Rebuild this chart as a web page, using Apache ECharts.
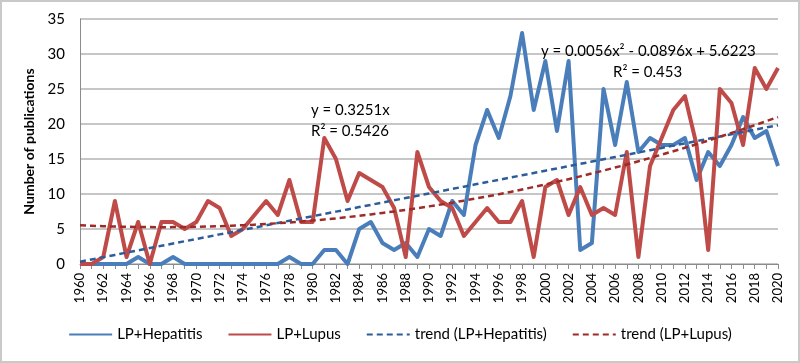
<!DOCTYPE html>
<html>
<head>
<meta charset="utf-8">
<script src="https://cdn.jsdelivr.net/npm/echarts@6/dist/echarts.min.js"></script>
<style>
html,body{margin:0;padding:0;background:#fff;}
#c{width:800px;height:363px;box-sizing:border-box;border:2px solid #c9c9c9;}
</style>
</head>
<body>
<div id="c"></div>
<script>
const years = [];
for (let y = 1960; y <= 2020; y++) years.push(String(y));

const hepatitis = [0,0,0,0,0,1,0,0,1,0, 0,0,0,0,0,0,0,0,1,0, 0,2,2,0,5,6,3,2,3,1, 5,4,9,7,17,22,18,24,33,22, 29,19,29,2,3,25,17,26,16,18, 17,17,18,12,16,14,17,21,18,19, 14];
const lupus = [0,0,1,9,1,6,0,6,6,5, 6,9,8,4,5,7,9,7,12,6, 6,18,15,9,13,12,11,8,1,16, 11,9,8,4,6,8,6,6,9,1, 11,12,7,11,7,8,7,16,1,14, 18,22,24,17,2,25,23,17,28,25, 28];
const trendHepatitis = [0.33,0.65,0.98,1.30,1.63,1.95,2.28,2.60,2.93,3.25, 3.58,3.90,4.23,4.55,4.88,5.20,5.53,5.85,6.18,6.50, 6.83,7.15,7.48,7.80,8.13,8.45,8.78,9.10,9.43,9.75, 10.08,10.40,10.73,11.05,11.38,11.70,12.03,12.35,12.68,13.00, 13.33,13.65,13.98,14.30,14.63,14.95,15.28,15.60,15.93,16.26, 16.58,16.91,17.23,17.56,17.88,18.21,18.53,18.86,19.18,19.51, 19.83];
const trendLupus = [5.54,5.47,5.40,5.35,5.31,5.29,5.27,5.26,5.27,5.29, 5.31,5.35,5.40,5.47,5.54,5.62,5.72,5.82,5.94,6.07, 6.21,6.36,6.52,6.70,6.88,7.08,7.29,7.50,7.73,7.97, 8.23,8.49,8.76,9.05,9.35,9.65,9.97,10.30,10.65,11.00, 11.36,11.74,12.12,12.52,12.93,13.35,13.78,14.22,14.68,15.14, 15.62,16.11,16.60,17.11,17.63,18.17,18.71,19.26,19.83,20.41, 20.99];
const yTicks = {min: 0, max: 35, step: 5};
const seriesNames = ['LP+Hepatitis', 'LP+Lupus', 'trend (LP+Hepatitis)', 'trend (LP+Lupus)'];
const yAxisTitle = 'Number of publications';
const eqHepatitis = ['y = 0.3251x', 'R² = 0.5426'];
const eqLupus = ['y = 0.0056x² - 0.0896x + 5.6223', 'R² = 0.453'];

const FONT = 'Lato, "Noto Sans", sans-serif';
const chart = echarts.init(document.getElementById('c'), null, {renderer: 'canvas'});

function lineSeries(name, data, color, width, dashed, z) {
  return {
    name, type: 'line', data, symbol: 'none', showSymbol: false, z,
    lineStyle: {color, width, type: dashed ? [6, 4] : 'solid', cap: 'butt', join: 'round'},
    itemStyle: {color},
    emphasis: {disabled: true},
    animation: false
  };
}

chart.setOption({
  animation: false,
  textStyle: {fontFamily: FONT},
  grid: {left: 78, right: 20, top: 17, bottom: 97, containLabel: false},
  legend: {
    bottom: 14, left: 'center',
    itemWidth: 43, itemHeight: 12, itemGap: 25,
    itemStyle: {opacity: 0},
    textStyle: {fontSize: 15, color: '#000', fontFamily: FONT},
    data: seriesNames
  },
  xAxis: {
    type: 'category', data: years, boundaryGap: false,
    axisLine: {lineStyle: {color: '#8c8c8c', width: 1}},
    axisTick: {show: true, interval: 0, length: 5, lineStyle: {color: '#8c8c8c'}},
    axisLabel: {interval: 1, rotate: 90, fontSize: 13, color: '#000', margin: 9, fontFamily: FONT},
    splitLine: {show: false}
  },
  yAxis: {
    type: 'value', min: yTicks.min, max: yTicks.max, interval: yTicks.step,
    name: yAxisTitle, nameLocation: 'middle', nameGap: 37, nameRotate: 90,
    nameTextStyle: {fontSize: 14, fontWeight: 'bold', color: '#000', fontFamily: FONT},
    axisLine: {show: true, lineStyle: {color: '#8c8c8c'}},
    axisTick: {show: false},
    axisLabel: {fontSize: 15, color: '#000', margin: 15, fontFamily: FONT},
    splitLine: {lineStyle: {color: '#b3b3b3', width: 1.5}}
  },
  series: [
    lineSeries(seriesNames[0], hepatitis, '#4A7EBB', 4, false, 3),
    lineSeries(seriesNames[1], lupus, '#BE4B48', 4, false, 4),
    lineSeries(seriesNames[2], trendHepatitis, '#2C5D9A', 2.5, true, 5),
    lineSeries(seriesNames[3], trendLupus, '#9E2B28', 2.5, true, 6)
  ],
  graphic: [
    {type: 'text', left: 309, top: 98, z: 10, style: {text: eqHepatitis.join('\n'), fontSize: 15, lineHeight: 21, fill: '#000', fontFamily: FONT, align: 'left'}},
    {type: 'text', left: 539, top: 42, z: 10, style: {text: eqLupus[0], fontSize: 15, fill: '#000', fontFamily: FONT}},
    {type: 'text', left: 611, top: 63, z: 10, style: {text: eqLupus[1], fontSize: 15, fill: '#000', fontFamily: FONT}}
  ]
});
</script>
</body>
</html>
